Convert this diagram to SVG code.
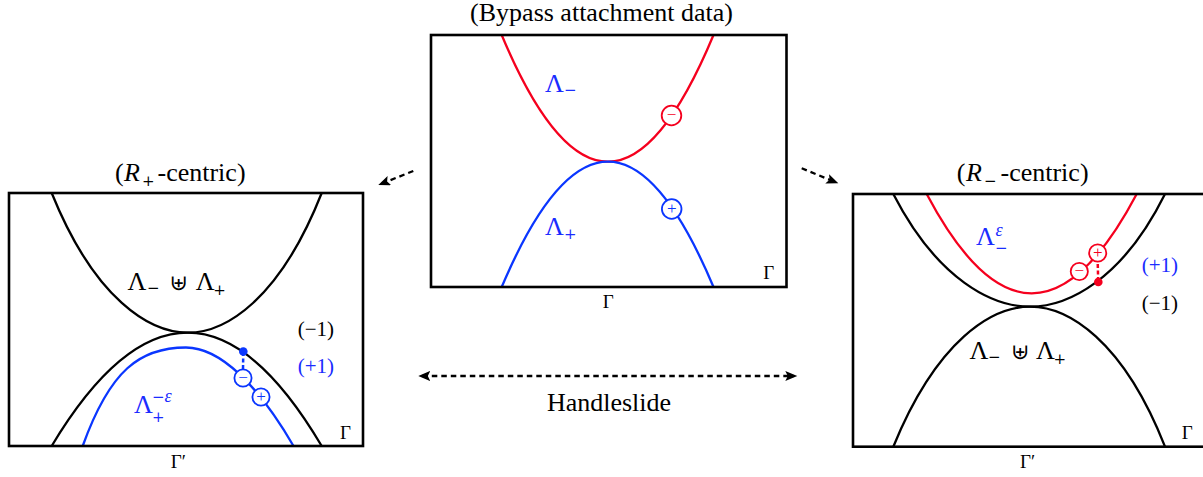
<svg xmlns="http://www.w3.org/2000/svg" width="1203" height="477" viewBox="0 0 1203 477">
<style>
  .box{fill:none;stroke:#000;stroke-width:2.6}
  .cb{fill:none;stroke:#000;stroke-width:2.3}
  .cr{fill:none;stroke:#f5001e;stroke-width:2.3}
  .cu{fill:none;stroke:#0a36ff;stroke-width:2.3}
  .ocr{fill:#fff;stroke:#f5001e;stroke-width:1.8}
  .ocu{fill:#fff;stroke:#0a36ff;stroke-width:1.8}
  .dot-r{fill:#f5001e}
  .dot-u{fill:#0a36ff}
  .dr{fill:none;stroke:#f5001e;stroke-width:2.5;stroke-dasharray:4 2.5}
  .du{fill:none;stroke:#0a36ff;stroke-width:2.5;stroke-dasharray:4 2.5}
  text{font-family:"Liberation Serif","DejaVu Serif",serif;fill:#000}
  .t{font-size:26px}
  .L{font-size:26px}
  .s{font-family:"DejaVu Serif",serif;font-size:15px}
  .e{font-size:18px;font-style:italic}
  .p{font-size:21px}
  .g{font-size:19px}
  .blue{fill:#1a2cff}
  .sgr{font-size:17px;fill:#f5001e;text-anchor:middle}
  .sgu{font-size:17px;fill:#0a36ff;text-anchor:middle}
  .cup{font-family:"DejaVu Serif","DejaVu Sans",serif;font-size:22px}
  .conn{fill:none;stroke:#000;stroke-width:2.3;stroke-dasharray:5.5 4}
</style>
<defs>
  <marker id="ah" markerUnits="userSpaceOnUse" markerWidth="13" markerHeight="11" refX="8" refY="5" orient="auto-start-reverse">
    <path d="M0,0 L12,5 L0,10 L2.5,5 z" fill="#000"/>
  </marker>
</defs>

<!-- Center panel -->
<g id="bypass">
  <text class="t" x="601.5" y="21" text-anchor="middle">(Bypass attachment data)</text>
  <path class="cr" d="M501.7,35 Q554.85,161.7 608,161.7 Q660.75,161.7 713.5,35"/>
  <path class="cu" d="M501.7,287 Q554.85,161.7 608,161.7 Q660.75,161.7 713.5,287"/>
  <rect class="box" x="431" y="35" width="355.5" height="252"/>
  <circle class="ocr" cx="671.5" cy="115.5" r="9.8"/>
  <text class="sgr" x="671.5" y="120">−</text>
  <circle class="ocu" cx="671.7" cy="209" r="9.8"/>
  <text class="sgu" x="671.7" y="213.6">+</text>
  <text class="blue"><tspan class="L" x="545" y="91.7">Λ</tspan><tspan class="s" x="564" y="94.5">−</tspan></text>
  <text class="blue"><tspan class="L" x="545" y="235">Λ</tspan><tspan class="s" x="564" y="238.5">+</tspan></text>
  <text class="g" x="763.3" y="279.3">Γ</text>
  <text class="g" x="602.7" y="308.3">Γ</text>
</g>

<!-- Left panel -->
<g id="r-plus-centric">
  <text class="t" y="181"><tspan x="115">(</tspan><tspan x="124" font-style="italic">R</tspan><tspan class="s" x="142" y="186">+</tspan><tspan x="157.5" y="181">-centric)</tspan></text>
  <path class="cb" d="M51.7,193 C95,300 150,332.7 187.7,332.7 C225.4,332.7 279.5,300 321.7,193"/>
  <path class="cb" d="M51.7,446 Q119.7,332.7 187.7,332.7 Q254.7,332.7 321.7,446"/>
  <path class="cu" d="M82.7,446 C110,370 140,347.5 186,347.5 C220,347.5 258,385 293.5,446"/>
  <rect class="box" x="9" y="193" width="354" height="253"/>
  <line class="du" x1="243.3" y1="352" x2="243" y2="369"/>
  <circle class="dot-u" cx="243.3" cy="351.5" r="4.3"/>
  <circle class="ocu" cx="243" cy="378" r="8.6"/>
  <text class="sgu" x="243" y="382.5">−</text>
  <circle class="ocu" cx="261" cy="397" r="8.6"/>
  <text class="sgu" x="261" y="401.5">+</text>
  <text><tspan class="L" x="127.5" y="290">Λ</tspan><tspan class="s" x="147" y="292.5">−</tspan><tspan class="cup" x="169.5" y="290">⊎</tspan><tspan class="L" x="195.7" y="290">Λ</tspan><tspan class="s" x="213.3" y="294.5">+</tspan></text>
  <text class="p" x="297.7" y="335.5">(−1)</text>
  <text class="p blue" x="297.7" y="373">(+1)</text>
  <text class="blue"><tspan class="L" x="134" y="413.3">Λ</tspan><tspan class="s" x="152" y="402">−</tspan><tspan class="e" x="164.5" y="402">ε</tspan><tspan class="s" x="152" y="421.5">+</tspan></text>
  <text class="g" x="340" y="439.3">Γ</text>
  <text class="g" x="170.7" y="468">Γ′</text>
</g>

<!-- Right panel -->
<g id="r-minus-centric">
  <text class="t" y="181"><tspan x="956.7">(</tspan><tspan x="966" font-style="italic">R</tspan><tspan class="s" x="984" y="186">−</tspan><tspan x="1000.5" y="181">-centric)</tspan></text>
  <path class="cb" d="M893.3,194 C938,280.7 993,306.7 1030,306.7 C1067,306.7 1122,280.7 1165,194"/>
  <path class="cb" d="M893.3,446.7 C937.3,339.4 992.3,306.7 1030,306.7 C1067.7,306.7 1122.7,339.4 1165,446.7"/>
  <path class="cr" d="M926.7,194 Q979.2,293.3 1031.7,293.3 Q1084.2,293.3 1136.7,194"/>
  <rect class="box" x="853" y="194" width="354" height="252.7"/>
  <line class="dr" x1="1098.2" y1="281" x2="1097.7" y2="262"/>
  <circle class="dot-r" cx="1098.3" cy="282" r="4.3"/>
  <circle class="ocr" cx="1079.3" cy="271.5" r="8.6"/>
  <text class="sgr" x="1079.3" y="276">−</text>
  <circle class="ocr" cx="1097.7" cy="253" r="8.6"/>
  <text class="sgr" x="1097.7" y="257.5">+</text>
  <text class="blue"><tspan class="L" x="976" y="245">Λ</tspan><tspan class="e" x="995.5" y="236">ε</tspan><tspan class="s" x="995" y="252.5">−</tspan></text>
  <text class="p blue" x="1141.7" y="272">(+1)</text>
  <text class="p" x="1141.7" y="309.5">(−1)</text>
  <text><tspan class="L" x="969.5" y="359.3">Λ</tspan><tspan class="s" x="988" y="362">−</tspan><tspan class="cup" x="1011" y="359.3">⊎</tspan><tspan class="L" x="1036" y="359.3">Λ</tspan><tspan class="s" x="1053.5" y="363.5">+</tspan></text>
  <text class="g" x="1181.7" y="439.3">Γ</text>
  <text class="g" x="1020" y="468">Γ′</text>
</g>

<!-- Connectors -->
<g id="connectors">
  <line class="conn" x1="413.3" y1="171" x2="382" y2="183.5" marker-end="url(#ah)"/>
  <line class="conn" x1="801.7" y1="168.3" x2="834.6" y2="181.8" marker-end="url(#ah)"/>
  <line class="conn" x1="422.3" y1="376" x2="793.3" y2="376" marker-start="url(#ah)" marker-end="url(#ah)"/>
  <text class="t" x="609" y="411" text-anchor="middle">Handleslide</text>
</g>
</svg>
